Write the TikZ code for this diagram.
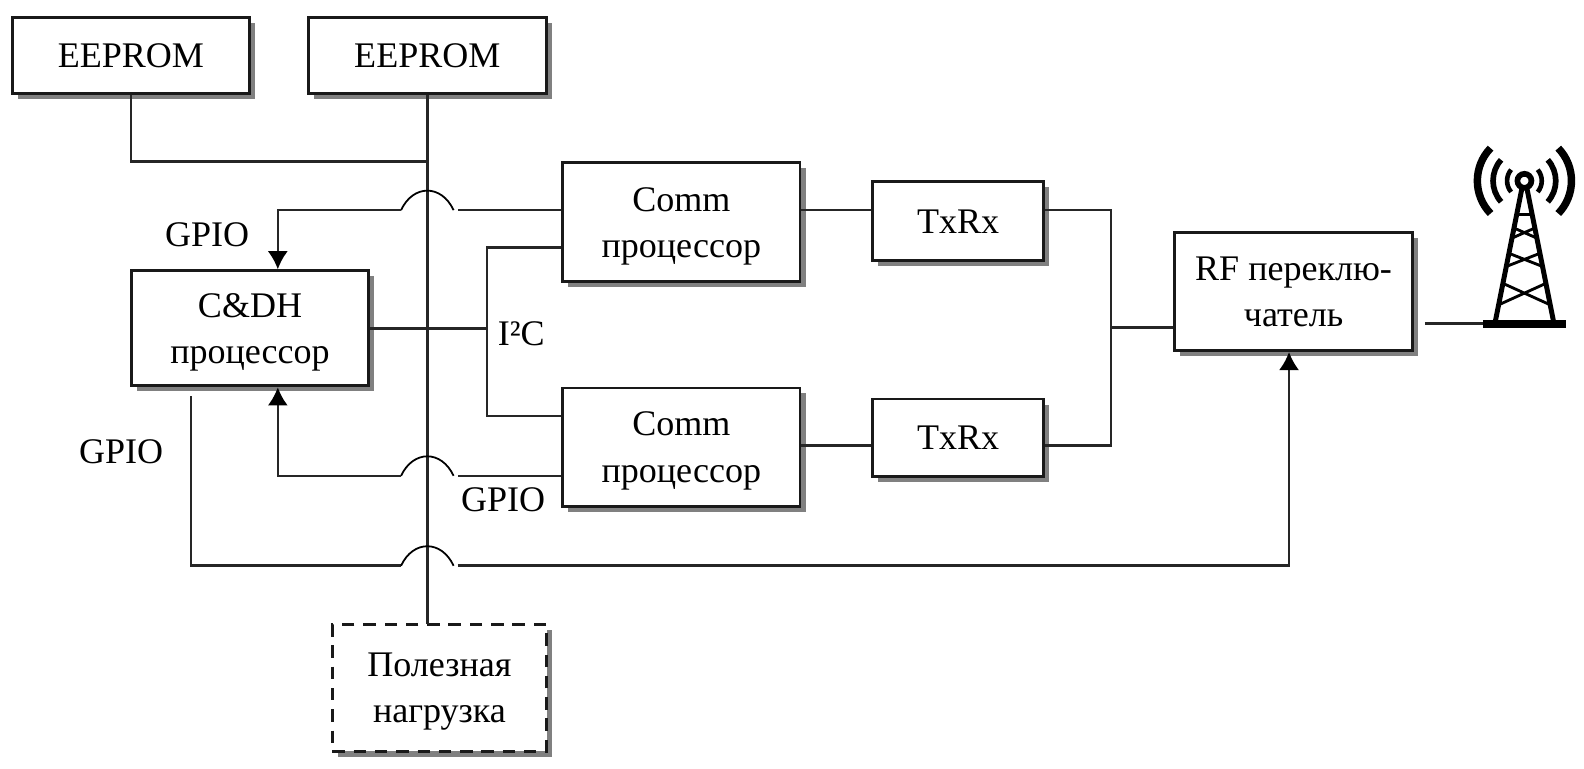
\documentclass[tikz,border=0pt]{standalone}
\usepackage{fontspec}
\setmainfont{Liberation Serif}
\usetikzlibrary{arrows.meta,shadows}
\tikzset{
  unitbox/.style={rectangle,draw=black!90,line width=1.6pt,fill=white,inner sep=0pt,align=center,
    text depth=0pt,font=\fontsize{20.3}{26}\selectfont,
    drop shadow={shadow xshift=0.11cm,shadow yshift=-0.11cm,fill=black!50,opacity=1}},
  tag/.style={inner sep=0pt,font=\fontsize{20.3}{26}\selectfont},
  wire/.style={line width=1.4pt,draw=black!85},
  hop/.style={line width=1pt,looseness=1.4,out=65,in=115},
}
\begin{document}
\begin{tikzpicture}[x=0.02cm,y=-0.02cm,>={Latex[length=0.36cm,width=0.4cm,color=black]}]

      \useasboundingbox (0,0) rectangle (1568,761);

      \path (129.5,55) node [unitbox,minimum width=4.7cm,minimum height=1.5cm](eeprom_a){EEPROM};
      \path (423,55) node [unitbox,minimum width=4.72cm,minimum height=1.5cm](eeprom_b){EEPROM};
      \path (674.5,220) node [unitbox,minimum width=4.7cm,minimum height=2.36cm](comm_a){Comm\\процессор};
      \path (674.5,442.5) node [unitbox,minimum width=4.7cm,minimum height=2.34cm](comm_b){Comm\\процессор};
      \path (948.5,219) node [unitbox,minimum width=3.38cm,minimum height=1.56cm](txrx_a){TxRx};
      \path (948.5,433.5) node [unitbox,minimum width=3.38cm,minimum height=1.54cm](txrx_b){TxRx};
      \path (1280.5,288.5) node [unitbox,minimum width=4.7cm,minimum height=2.34cm](rf_sw){RF переклю-\\чатель};
      \path (247.5,325) node [unitbox,minimum width=4.7cm,minimum height=2.28cm](cdh){C\&DH\\процессор};
      \path (435,681) node [unitbox,dashed,dash pattern=on 7pt off 5pt,minimum width=4.24cm,minimum height=2.5cm](payload){Полезная\\нагрузка};

      \path (205,232) node [tag](gpio_a){GPIO};
      \path (120,447) node [tag](gpio_b){GPIO};
      \path (498,495) node [tag](gpio_c){GPIO};
      \path (516,330) node [tag](i2c_tag){I²C};

      \coordinate (bus_top) at (423,160);
      \coordinate (bus_end) at (423,618);
      \coordinate (hop_a_l) at (397,208);
      \coordinate (hop_a_r) at (449,208);
      \coordinate (hop_b_l) at (397,471);
      \coordinate (hop_b_r) at (449,471);
      \coordinate (hop_c_l) at (397,560);
      \coordinate (hop_c_r) at (449,560);
      \coordinate (i2c_a) at (482,245);
      \coordinate (i2c_m) at (482,325);
      \coordinate (i2c_b) at (482,412);
      \coordinate (merge_a) at (1100,208);
      \coordinate (merge_m) at (1100,324);
      \coordinate (merge_b) at (1100,441);
      \coordinate (gpio_in_a) at (275,208);
      \coordinate (gpio_in_b) at (275,471);
      \coordinate (gpio_out) at (189,560);
      \coordinate (gpio_top) at (189,392);
      \coordinate (gpio_rf) at (1276,560);
      \coordinate (mast_foot) at (1470,320);

      % bus
      \draw[wire] (eeprom_b.south) -- (bus_end);
      \draw[wire] (eeprom_a.south) |- (bus_top);

      % GPIO lines with hops over the bus
      \draw[wire] (comm_a.west |- hop_a_r) -- ([xshift=0.08cm]hop_a_r);
      \draw[hop] (hop_a_l) to (hop_a_r);
      \draw[wire,->] (hop_a_l) -- (gpio_in_a) -- (gpio_in_a |- cdh.north);
      \draw[wire] (comm_b.west |- hop_b_r) -- ([xshift=0.08cm]hop_b_r);
      \draw[hop] (hop_b_l) to (hop_b_r);
      \draw[wire,->] (hop_b_l) -- (gpio_in_b) -- (gpio_in_b |- cdh.south);
      \draw[wire] (gpio_top) -- (gpio_out) -- (hop_c_l);
      \draw[hop] (hop_c_l) to (hop_c_r);
      \draw[wire,->] ([xshift=0.08cm]hop_c_r) -- (gpio_rf) -- (gpio_rf |- rf_sw.south);

      % I2C
      \draw[wire] (cdh.east) -- (i2c_m);
      \draw[wire] (comm_a.west |- i2c_a) -- (i2c_a) -- (i2c_b) -- (comm_b.west |- i2c_b);

      % radio path
      \draw[wire] (comm_a.east |- merge_a) -- (txrx_a.west |- merge_a);
      \draw[wire] (comm_b.east |- merge_b) -- (txrx_b.west |- merge_b);
      \draw[wire] (txrx_a.east |- merge_a) -- (merge_a) -- (merge_b) -- (txrx_b.east |- merge_b);
      \draw[wire] (merge_m) -- (rf_sw.west |- merge_m);
      \draw[wire] (rf_sw.east |- mast_foot) ++(0.22cm,0) -- (mast_foot);

      % mast
      \begin{scope}[shift={(1509,179)},x=0.0066cm,y=0.0066cm,line cap=butt]
        \foreach \rad/\wd/\ang in {52/2.6pt/40,94/3.2pt/42,141/4.2pt/44} {
          \draw[line width=\wd] (180-\ang:\rad) arc (180-\ang:180+\ang:\rad);
          \draw[line width=\wd] (-\ang:\rad) arc (-\ang:\ang:\rad);
        }
        \draw[line width=3.2pt] (0,0) circle (21);
        \draw[line width=2.8pt] (-6,-15) -- (-87,-420) (6,-15) -- (87,-420);
        \draw[line width=1.6pt] (-18,-102) -- (18,-102);
        \foreach \ya/\xa/\yb/\xb in {142/30/172/38,217/47/257/55,307/65/372/78} {
          \draw[line width=1.6pt] (-\xa,-\ya) -- (\xb,-\yb) (\xa,-\ya) -- (-\xb,-\yb);
        }
        \draw[line width=4.7pt] (-124,-429) -- (125,-429);
      \end{scope}

    \end{tikzpicture}
\end{document}
